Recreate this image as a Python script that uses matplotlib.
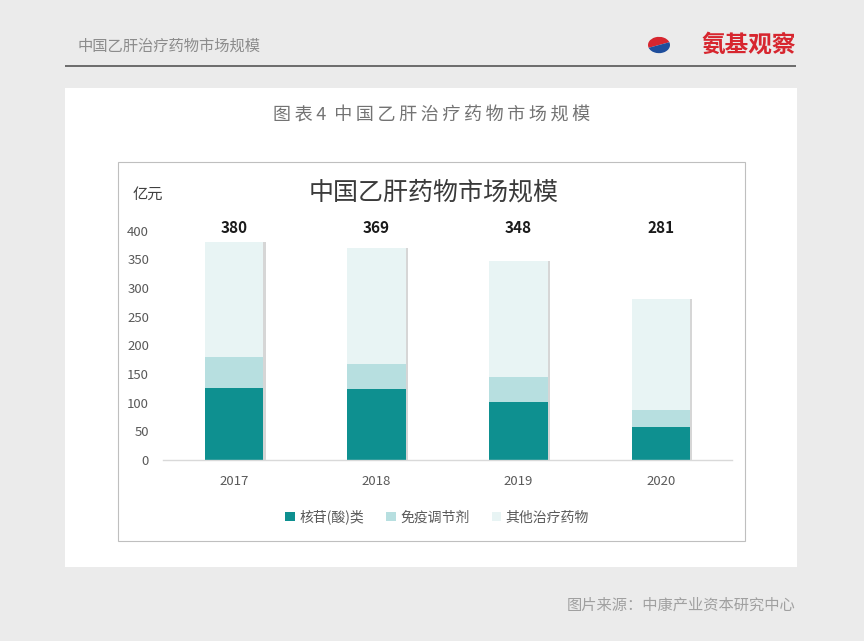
import matplotlib.pyplot as plt
import numpy as np
from matplotlib.patches import Rectangle, Wedge

plt.rcParams['font.family'] = ['Noto Sans CJK SC', 'DejaVu Sans']

# 数据（亿元）
years = ['2017', '2018', '2019', '2020']
hesu = [126, 124, 101, 57]        # 核苷(酸)类
mianyi = [53, 43, 44, 30]         # 免疫调节剂
qita = [201, 202, 203, 194]       # 其他治疗药物
totals = [380, 369, 348, 281]
series_names = ['核苷(酸)类', '免疫调节剂', '其他治疗药物']
yticks = [0, 50, 100, 150, 200, 250, 300, 350, 400]

W, H = 864, 641
fig = plt.figure(figsize=(W / 100, H / 100), dpi=100)
fig.patch.set_facecolor('#ebebeb')


def fx(px):
    return px / W


def fy(py):
    return 1 - py / H


def spaced(s):
    # 字间距
    return '\u2009'.join(s)


# 页眉
fig.text(fx(78), fy(46), '中国乙肝治疗药物市场规模', fontsize=11, color='#8c8c8c',
         va='center', ha='left')
fig.add_artist(Rectangle((fx(65), fy(67)), fx(731), 2 / H, transform=fig.transFigure,
                         facecolor='#6e6e6e', edgecolor='none'))
fig.text(fx(796), fy(45), '氨基观察', fontsize=17, color='#d7262f', fontweight='bold',
         va='center', ha='right')
fig.add_artist(Wedge((fx(659), fy(45)), 11 / W, 20, 200, transform=fig.transFigure,
                     facecolor='#d7262f', edgecolor='none'))
fig.add_artist(Wedge((fx(659), fy(45)), 11 / W, 200, 380, transform=fig.transFigure,
                     facecolor='#1f4e9c', edgecolor='none'))

# 白色面板
fig.add_artist(Rectangle((fx(65), fy(567)), fx(732), (567 - 88) / H,
                         transform=fig.transFigure, facecolor='white', edgecolor='none'))
fig.text(fx(432), fy(116), spaced('图表4') + '  ' + spaced('中国乙肝治疗药物市场规模'),
         fontsize=13, color='#737373', va='center', ha='center', fontweight='medium')
fig.add_artist(Rectangle((fx(118), fy(541)), fx(627), (541 - 162) / H,
                         transform=fig.transFigure, facecolor='white', edgecolor='#bfbfbf',
                         linewidth=0.8))
fig.text(fx(434), fy(192), '中国乙肝药物市场规模', fontsize=18, color='#3a3a3a',
         va='center', ha='center', fontweight='medium')
fig.text(fx(133), fy(194), '亿元', fontsize=11, color='#404040', va='center', ha='left')

# 图表
ax = fig.add_axes([fx(163), fy(460), fx(732 - 163), (460 - 230.7) / H])
ax.set_zorder(5)
ax.patch.set_alpha(0)
x = np.arange(len(years))
colors = ['#0e9090', '#b7dfe0', '#e8f4f4']
bw = 0.41
bottom = np.zeros(len(years))
for vals, c, name in zip([hesu, mianyi, qita], colors, series_names):
    ax.bar(x, vals, bw, bottom=bottom, color=c, label=name, edgecolor='none', zorder=2)
    bottom += np.array(vals)
# 柱子轻微阴影
ax.bar(x + 0.01, totals, bw + 0.012, color='#d6d6d6', edgecolor='none', zorder=1)

for xi, t in zip(x, totals):
    ax.text(xi, 404, str(t), ha='center', va='center', fontsize=11, fontweight='bold',
            color='#1a1a1a', clip_on=False)

ax.set_xlim(-0.5, 3.5)
ax.set_ylim(0, 400)
ax.set_yticks(yticks)
ax.set_xticks(x)
ax.set_xticklabels(years)
ax.tick_params(axis='both', length=0, labelsize=9.5, colors='#595959')
ax.tick_params(axis='x', pad=11)
ax.tick_params(axis='y', pad=10)
for s in ['top', 'right', 'left']:
    ax.spines[s].set_visible(False)
ax.spines['bottom'].set_color('#d9d9d9')
ax.spines['bottom'].set_linewidth(1)

handles, labels = ax.get_legend_handles_labels()
leg = fig.legend(handles[:3], labels[:3], loc='center', bbox_to_anchor=(fx(437), fy(517)),
                 ncol=3, frameon=False, fontsize=10, handlelength=0.7, handleheight=0.7,
                 handletextpad=0.3, columnspacing=1.6, labelcolor='#595959')
leg.set_zorder(6)

fig.text(fx(795), fy(605), '图片来源：中康产业资本研究中心', fontsize=11, color='#a0a0a0',
         va='center', ha='right')

fig.savefig('out.png', dpi=100, facecolor=fig.get_facecolor())
